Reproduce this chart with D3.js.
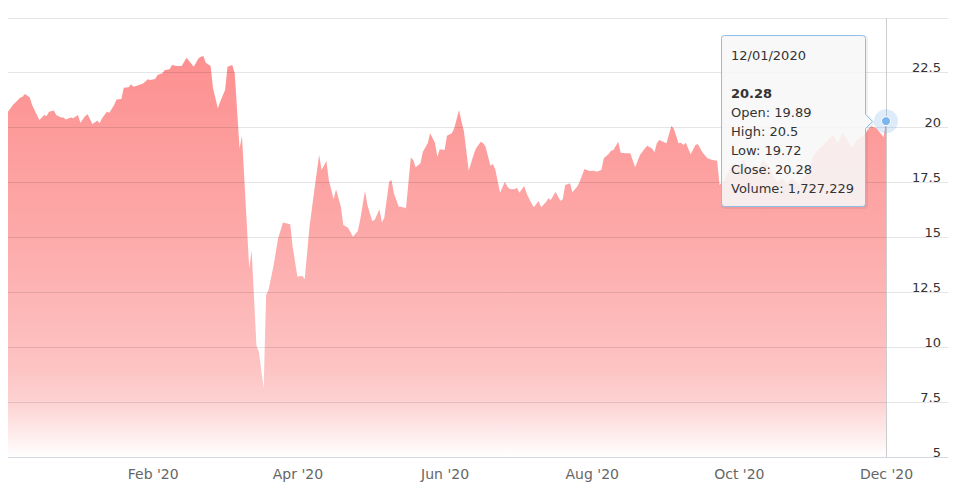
<!DOCTYPE html>
<html>
<head>
<meta charset="utf-8">
<script src="https://cdn.jsdelivr.net/npm/d3@7"></script>
<style>
  html, body { margin: 0; padding: 0; background: #ffffff; }
  svg { display: block; }
</style>
</head>
<body>
<svg id="chart" width="955" height="489"></svg>
<script>
// ---- data ----
const dates = [
"2019-12-03","2019-12-05","2019-12-06","2019-12-08","2019-12-09","2019-12-10","2019-12-12","2019-12-13","2019-12-15","2019-12-16",
"2019-12-18","2019-12-19","2019-12-20","2019-12-22","2019-12-23","2019-12-25","2019-12-26","2019-12-27","2019-12-29","2019-12-30",
"2020-01-01","2020-01-02","2020-01-04","2020-01-05","2020-01-07","2020-01-09","2020-01-10","2020-01-11","2020-01-13","2020-01-14",
"2020-01-16","2020-01-17","2020-01-19","2020-01-20","2020-01-22","2020-01-23","2020-01-24","2020-01-26","2020-01-28","2020-01-30",
"2020-01-31","2020-02-02","2020-02-03","2020-02-05","2020-02-06","2020-02-08","2020-02-09","2020-02-11","2020-02-13","2020-02-15",
"2020-02-16","2020-02-18","2020-02-20","2020-02-21","2020-02-22","2020-02-23","2020-02-25","2020-02-26","2020-02-28","2020-02-29",
"2020-03-02","2020-03-03","2020-03-05","2020-03-06","2020-03-08","2020-03-09","2020-03-12","2020-03-13","2020-03-15","2020-03-16",
"2020-03-18","2020-03-19","2020-03-20","2020-03-22","2020-03-24","2020-03-26","2020-03-29","2020-03-30","2020-04-01","2020-04-03",
"2020-04-04","2020-04-06","2020-04-08","2020-04-10","2020-04-11","2020-04-13","2020-04-14","2020-04-16","2020-04-17","2020-04-19",
"2020-04-20","2020-04-22","2020-04-23","2020-04-24","2020-04-26","2020-04-27","2020-04-29","2020-04-30","2020-05-02","2020-05-03",
"2020-05-05","2020-05-06","2020-05-07","2020-05-09","2020-05-10","2020-05-11","2020-05-13","2020-05-14","2020-05-16","2020-05-18",
"2020-05-19","2020-05-20","2020-05-22","2020-05-23","2020-05-25","2020-05-26","2020-05-28","2020-05-29","2020-05-30","2020-06-01",
"2020-06-02","2020-06-04","2020-06-05","2020-06-07","2020-06-08","2020-06-09","2020-06-11","2020-06-13","2020-06-14","2020-06-16",
"2020-06-17","2020-06-18","2020-06-20","2020-06-21","2020-06-22","2020-06-24","2020-06-26","2020-06-27","2020-06-28","2020-06-30",
"2020-07-01","2020-07-02","2020-07-04","2020-07-05","2020-07-07","2020-07-08","2020-07-10","2020-07-11","2020-07-13","2020-07-14",
"2020-07-15","2020-07-17","2020-07-19","2020-07-20","2020-07-21","2020-07-23","2020-07-24","2020-07-26","2020-07-27","2020-07-29",
"2020-07-30","2020-07-31","2020-08-02","2020-08-03","2020-08-05","2020-08-06","2020-08-08","2020-08-09","2020-08-10","2020-08-12",
"2020-08-13","2020-08-15","2020-08-17","2020-08-19","2020-08-21","2020-08-23","2020-08-24","2020-08-26","2020-08-27","2020-08-28",
"2020-08-29","2020-08-31","2020-09-01","2020-09-03","2020-09-04","2020-09-06","2020-09-07","2020-09-08","2020-09-09","2020-09-11",
"2020-09-13","2020-09-14","2020-09-16","2020-09-18","2020-09-20","2020-09-22","2020-09-23","2020-09-25","2020-09-27","2020-09-29",
"2020-10-01","2020-10-03","2020-10-05","2020-10-07","2020-10-09","2020-10-11","2020-10-13","2020-10-15","2020-10-17","2020-10-19",
"2020-10-21","2020-10-23","2020-10-26","2020-10-28","2020-10-30","2020-11-01","2020-11-03","2020-11-05","2020-11-07","2020-11-09",
"2020-11-11","2020-11-13","2020-11-15","2020-11-17","2020-11-19","2020-11-22","2020-11-24","2020-11-25","2020-11-27","2020-11-29",
"2020-11-30","2020-12-01"
];
const closes = [
20.71,21.02,21.12,21.35,21.39,21.52,21.37,21.02,20.56,20.33,
20.56,20.51,20.71,20.76,20.56,20.45,20.45,20.36,20.45,20.41,
20.56,20.21,20.51,20.59,20.15,20.30,20.18,20.41,20.71,20.66,
21.02,21.27,21.29,21.80,21.82,21.96,21.85,21.91,22.00,22.19,
22.15,22.20,22.38,22.46,22.61,22.64,22.84,22.79,22.79,23.17,
23.03,22.76,23.14,23.21,23.25,22.94,22.79,21.78,20.87,21.17,
21.70,22.76,22.84,22.46,19.04,19.60,13.58,14.39,10.05,9.78,
8.11,12.36,12.59,13.65,14.95,15.66,15.58,14.56,13.20,13.24,
13.08,15.47,17.15,18.74,18.06,18.47,17.60,16.72,17.18,16.38,
15.55,15.43,15.22,15.02,15.28,15.78,17.11,16.46,15.73,15.78,
16.27,15.67,15.88,17.52,17.60,16.99,16.38,16.38,16.31,18.63,
18.51,18.18,18.36,18.89,19.27,19.73,19.30,18.66,19.00,18.97,
19.62,19.73,19.96,20.79,20.26,19.83,18.02,18.74,19.04,19.34,
19.27,19.12,18.25,18.33,18.09,17.02,17.52,17.30,17.19,17.18,
17.25,17.02,17.33,16.99,16.54,16.36,16.64,16.36,16.59,16.77,
16.69,17.07,16.66,16.72,17.37,17.45,17.04,17.30,17.52,18.10,
18.06,18.01,18.02,17.98,18.06,18.59,18.78,18.93,18.97,19.34,
18.84,18.82,18.82,18.18,18.74,19.04,19.16,19.04,18.86,19.27,
19.42,19.32,19.27,20.06,19.95,19.27,19.30,19.19,19.30,18.77,
19.19,19.24,18.84,18.59,18.51,18.48,17.37,17.60,18.05,18.37,
18.23,18.51,17.96,18.28,18.05,18.51,18.28,17.83,17.50,17.69,
17.42,17.69,17.37,17.78,17.96,18.74,18.97,19.19,19.42,19.65,
19.28,19.73,19.42,19.06,19.42,19.65,19.96,20.05,19.96,19.69,
19.55,20.28
];
const yTicks = [5, 7.5, 10, 12.5, 15, 17.5, 20, 22.5];
const yGrid = [5, 7.5, 10, 12.5, 15, 17.5, 20, 22.5, 25];
const xTickDates = ["2020-02-01","2020-04-01","2020-06-01","2020-08-01","2020-10-01","2020-12-01"];
const xTickLabels = ["Feb '20","Apr '20","Jun '20","Aug '20","Oct '20","Dec '20"];
const tipDate = "12/01/2020";
const tipOpen = 19.89, tipHigh = 20.5, tipLow = 19.72, tipClose = 20.28, tipVolume = 1727229;

// ---- chart ----
const parse = d3.timeParse("%Y-%m-%d");
const data = dates.map((d, i) => ({ date: parse(d), close: closes[i] }));

const svg = d3.select("#chart");
const plotLeft = 8, plotRight = 948, plotTop = 17.5, plotBottom = 456.7;

const x = d3.scaleTime()
  .domain([data[0].date, data[data.length - 1].date])
  .range([8, 886]);
const y = d3.scaleLinear().domain([5, 25]).range([plotBottom, plotTop]);

const defs = svg.append("defs");
const grad = defs.append("linearGradient")
  .attr("id", "areaGrad")
  .attr("gradientUnits", "userSpaceOnUse")
  .attr("x1", 0).attr("x2", 0)
  .attr("y1", 50).attr("y2", plotBottom);
[
  [0.00, "#fd8f8f"],
  [0.45, "#fda9a9"],
  [0.78, "#fdc3c3"],
  [0.87, "#fdd3d3"],
  [0.94, "#feeaea"],
  [1.00, "#ffffff"]
].forEach(s => grad.append("stop").attr("offset", s[0]).attr("stop-color", s[1]));

// area
const area = d3.area()
  .x(d => x(d.date))
  .y0(y(5))
  .y1(d => y(d.close));
svg.append("path")
  .datum(data)
  .attr("d", area)
  .attr("fill", "url(#areaGrad)");

// grid lines (on top, translucent)
const grid = svg.append("g")
  .attr("transform", `translate(${plotLeft},0)`)
  .call(d3.axisRight(y).tickValues(yGrid).tickSize(plotRight - plotLeft).tickFormat(""));
grid.select(".domain").remove();
grid.selectAll("line")
  .attr("stroke", d => d === 5 ? "rgba(40,60,110,0.2)" : "rgba(0,0,0,0.1)")
  .attr("stroke-width", 1)
  .attr("shape-rendering", "crispEdges");

// y axis labels
const yAxis = svg.append("g")
  .attr("transform", `translate(941,0)`)
  .call(d3.axisLeft(y).tickValues(yTicks).tickSize(0).tickPadding(0).tickFormat(d => d3.format("")(d)));
yAxis.select(".domain").remove();
yAxis.selectAll("text")
  .attr("font-family", "DejaVu Sans, Verdana, sans-serif")
  .attr("font-size", "13px")
  .attr("fill", "#333333")
  .attr("dy", "-0.5");

// x axis labels
const xAxis = svg.append("g")
  .attr("transform", `translate(0,${plotBottom})`)
  .call(d3.axisBottom(x)
    .tickValues(xTickDates.map(parse))
    .tickSize(0)
    .tickFormat((d, i) => xTickLabels[i]));
xAxis.select(".domain").remove();
xAxis.selectAll("text")
  .attr("font-family", "DejaVu Sans, Verdana, sans-serif")
  .attr("font-size", "14px")
  .attr("fill", "#666666")
  .attr("y", 22)
  .attr("dy", "0");

// crosshair
const last = data[data.length - 1];
const px = x(last.date), py = y(last.close);
svg.append("line")
  .attr("x1", px).attr("x2", px)
  .attr("y1", plotTop).attr("y2", plotBottom)
  .attr("stroke", "#cccccc").attr("stroke-width", 1)
  .attr("shape-rendering", "crispEdges");

// marker with halo
svg.append("circle").attr("cx", px).attr("cy", py).attr("r", 12)
  .attr("fill", "#7cb5ec").attr("fill-opacity", 0.25);
svg.append("circle").attr("cx", px).attr("cy", py).attr("r", 4.5)
  .attr("fill", "#7cb5ec").attr("stroke", "#ffffff").attr("stroke-width", 1);

// tooltip
const bx0 = 721.5, by0 = 35.5, bx1 = 865.5, by1 = 206.5, r = 3;
const tipX = px - 13.5;
const ay = Math.round(py) + 0.5;
const tipPath = `M${bx0 + r},${by0} H${bx1 - r} Q${bx1},${by0} ${bx1},${by0 + r} V${ay - 7} L${tipX},${ay} L${bx1},${ay + 7} V${by1 - r} Q${bx1},${by1} ${bx1 - r},${by1} H${bx0 + r} Q${bx0},${by1} ${bx0},${by1 - r} V${by0 + r} Q${bx0},${by0} ${bx0 + r},${by0} Z`;
const tip = svg.append("g");
tip.append("path").attr("d", tipPath)
  .attr("transform", "translate(1,1)")
  .attr("fill", "none").attr("stroke", "rgba(0,0,0,0.06)").attr("stroke-width", 3);
tip.append("path").attr("d", tipPath)
  .attr("fill", "rgba(247,247,247,0.88)")
  .attr("stroke", "#8fbde9").attr("stroke-width", 1);

const fmtVol = d3.format(",");
const tipLines = [
  { t: tipDate, yb: 60, bold: false },
  { t: d3.format(".2f")(tipClose), yb: 97.5, bold: true },
  { t: "Open: " + tipOpen, yb: 116.5 },
  { t: "High: " + tipHigh, yb: 135.5 },
  { t: "Low: " + tipLow, yb: 154.5 },
  { t: "Close: " + tipClose, yb: 173.5 },
  { t: "Volume: " + fmtVol(tipVolume), yb: 192.5 }
];
tip.selectAll("text.tl").data(tipLines).enter().append("text")
  .attr("class", "tl")
  .attr("x", 731)
  .attr("y", d => d.yb)
  .attr("font-family", "DejaVu Sans, Verdana, sans-serif")
  .attr("font-size", "13px")
  .attr("font-weight", d => d.bold ? "bold" : "normal")
  .attr("fill", "#333333")
  .text(d => d.t);
</script>
</body>
</html>
